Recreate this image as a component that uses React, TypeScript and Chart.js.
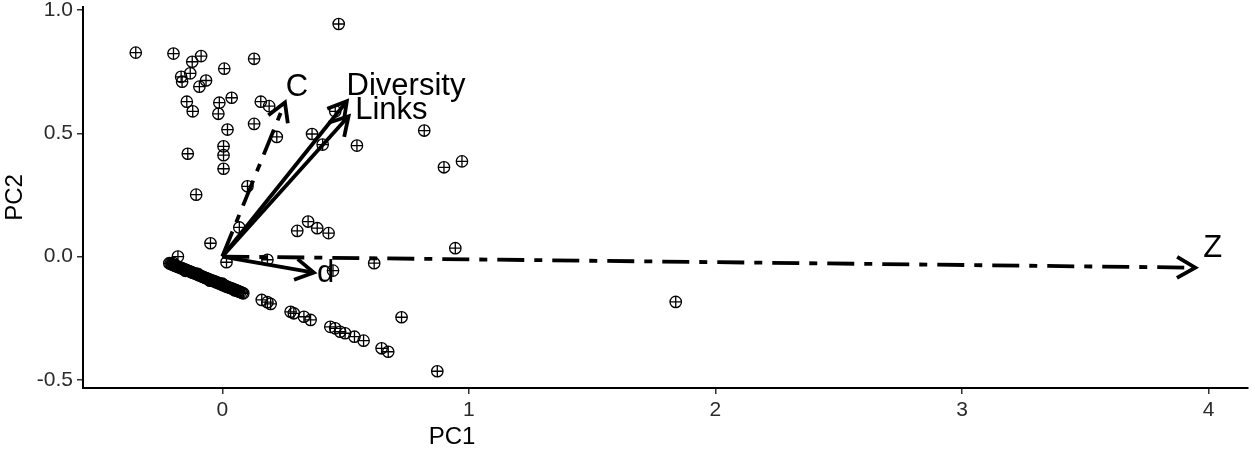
import React, { useEffect, useRef } from "react";
import { Chart, registerables } from "chart.js";

Chart.register(...registerables);

// Scores (points)
const scoreX: number[] = [
  -0.351, -0.198, -0.122, -0.086, -0.167, -0.130, -0.163, -0.066, -0.093, 0.008,
  0.129, -0.144, -0.120, -0.012, 0.038, -0.016, 0.156, 0.190, 0.129, 0.021,
  0.221, 0.364, -0.140, 0.005, 0.005, 0.005, 0.102, -0.106, 0.472, 0.407,
  0.546, 0.458, 0.819, 0.899, 0.972,
  -0.048, -0.180, 0.069, 0.017, 0.183, 0.304, 0.348, 0.385, 0.431, 0.449,
  0.616, 0.945, 1.839,
  0.160, 0.183, 0.196, 0.277, 0.290, 0.331, 0.358, 0.438, 0.458, 0.478,
  0.498, 0.536, 0.573, 0.646, 0.673, 0.727, 0.872,
  -0.215, -0.205, -0.198, -0.190, -0.181, -0.170, -0.162, -0.150, -0.141, -0.128,
  -0.119, -0.105, -0.094, -0.082, -0.070, -0.061, -0.048, -0.037, -0.025, -0.012,
  -0.002, 0.010, 0.021, 0.034, 0.046, 0.057, 0.068, 0.080,
  -0.210, -0.202, -0.194, -0.186, -0.176, -0.166, -0.156, -0.146, -0.135, -0.124,
  -0.112, -0.100, -0.088, -0.076, -0.065, -0.054, -0.043, -0.031, -0.019, -0.007,
  0.004, 0.016, 0.028, 0.040, 0.052, 0.063, 0.074, 0.085,
  -0.200, -0.150, -0.100, -0.050, 0.000, 0.050,
];
const scoreY: number[] = [
  0.827, 0.823, 0.790, 0.813, 0.729, 0.743, 0.709, 0.714, 0.689, 0.762,
  0.802, 0.628, 0.589, 0.624, 0.644, 0.579, 0.628, 0.610, 0.538, 0.515,
  0.485, 0.497, 0.417, 0.447, 0.411, 0.356, 0.285, 0.251, 0.943, 0.454,
  0.450, 0.589, 0.511, 0.362, 0.386,
  0.054, 0.0, 0.118, -0.023, -0.013, 0.104, 0.142, 0.115, 0.095, -0.057,
  -0.027, 0.034, -0.184,
  -0.176, -0.185, -0.192, -0.224, -0.230, -0.244, -0.257, -0.285, -0.291, -0.305,
  -0.311, -0.325, -0.341, -0.372, -0.386, -0.246, -0.465,
  -0.027, -0.031, -0.034, -0.037, -0.041, -0.045, -0.048, -0.053, -0.057, -0.062,
  -0.066, -0.071, -0.076, -0.081, -0.086, -0.089, -0.095, -0.099, -0.104, -0.109,
  -0.113, -0.118, -0.123, -0.128, -0.133, -0.137, -0.142, -0.147,
  -0.029, -0.032, -0.036, -0.039, -0.043, -0.047, -0.051, -0.055, -0.059, -0.064,
  -0.068, -0.073, -0.078, -0.083, -0.088, -0.092, -0.097, -0.101, -0.106, -0.111,
  -0.116, -0.121, -0.126, -0.130, -0.135, -0.140, -0.144, -0.149,
  -0.025, -0.058, -0.070, -0.098, -0.110, -0.137,
];

// Loadings (arrows)
const loadingNames: string[] = ["Diversity", "Links", "C", "d", "Z"];
const loadingX: number[] = [0.505, 0.512, 0.254, 0.371, 3.946];
const loadingY: number[] = [0.63, 0.569, 0.625, -0.065, -0.045];
const loadingDashed: boolean[] = [false, false, true, false, true];
const labelX: number[] = [0.504, 0.539, 0.257, 0.384, 3.978];
const labelY: number[] = [0.657, 0.556, 0.653, -0.102, 0.0];

// Axis ticks
const xTickValues: number[] = [0, 1, 2, 3, 4];
const xTickLabels: string[] = ["0", "1", "2", "3", "4"];
const yTickValues: number[] = [-0.5, 0, 0.5, 1];
const yTickLabels: string[] = ["-0.5", "0.0", "0.5", "1.0"];
const xTitle = "PC1";

const FONT = '"Liberation Sans", Arial, Helvetica, sans-serif';
const DASH = [27, 10, 8, 10];

const arrowPlugin = {
  id: "arrowHeads",
  afterDatasetsDraw(chart: any) {
    const { ctx } = chart;
    const xs = chart.scales.x;
    const ys = chart.scales.y;
    const L = 21;
    const A = Math.PI / 6;
    ctx.save();
    loadingNames.forEach((name, i) => {
      const x0 = xs.getPixelForValue(0);
      const y0 = ys.getPixelForValue(0);
      const x1 = xs.getPixelForValue(loadingX[i]);
      const y1 = ys.getPixelForValue(loadingY[i]);
      const ang = Math.atan2(y1 - y0, x1 - x0);
      ctx.setLineDash([]);
      ctx.lineWidth = 3.8;
      ctx.strokeStyle = "#000";
      ctx.lineCap = "butt";
      ctx.lineJoin = "miter";
      ctx.beginPath();
      ctx.moveTo(x1 - L * Math.cos(ang - A), y1 - L * Math.sin(ang - A));
      ctx.lineTo(x1, y1);
      ctx.lineTo(x1 - L * Math.cos(ang + A), y1 - L * Math.sin(ang + A));
      ctx.stroke();
      ctx.font = `31px ${FONT}`;
      ctx.fillStyle = "#000";
      ctx.textAlign = "left";
      ctx.textBaseline = "alphabetic";
      ctx.fillText(name, xs.getPixelForValue(labelX[i]), ys.getPixelForValue(labelY[i]));
    });
    // x axis title (placed as in the reference, left of the area centre)
    ctx.font = `24px ${FONT}`;
    ctx.fillStyle = "#000";
    ctx.textAlign = "center";
    ctx.textBaseline = "middle";
    ctx.fillText(xTitle, 452, 437);
    ctx.restore();
  },
};

export default function App() {
  const ref = useRef<HTMLCanvasElement | null>(null);

  useEffect(() => {
    if (!ref.current) return;
    const pts = scoreX.map((x, i) => ({ x, y: scoreY[i] }));
    const arrowSets = loadingNames.map((name, i) => ({
      type: "line" as const,
      label: name,
      data: [
        { x: 0, y: 0 },
        { x: loadingX[i], y: loadingY[i] },
      ],
      borderColor: "#000",
      borderWidth: 3.8,
      borderDash: loadingDashed[i] ? DASH : [],
      borderCapStyle: "butt" as const,
      pointRadius: 0,
      fill: false,
      tension: 0,
      order: 0,
    }));
    const chart = new Chart(ref.current, {
      type: "scatter",
      data: {
        datasets: [
          ...arrowSets,
          {
            label: "scores-circle",
            data: pts,
            pointStyle: "circle",
            pointRadius: 5.7,
            pointBorderWidth: 1.3,
            pointBorderColor: "#000",
            pointBackgroundColor: "rgba(0,0,0,0)",
            order: 1,
          },
          {
            label: "scores-cross",
            data: pts,
            pointStyle: "cross",
            pointRadius: 5.7,
            pointBorderWidth: 1.3,
            pointBorderColor: "#000",
            pointBackgroundColor: "rgba(0,0,0,0)",
            order: 1,
          },
        ] as any,
      },
      options: {
        responsive: false,
        animation: false,
        devicePixelRatio: 1,
        layout: { padding: { top: 7, right: 0, left: 0, bottom: 0 } },
        plugins: {
          legend: { display: false },
          tooltip: { enabled: false },
        },
        scales: {
          x: {
            type: "linear",
            min: -0.565,
            max: 4.16,
            afterFit: (s: any) => {
              s.height = 67;
              s.paddingLeft = 0;
              s.paddingRight = 0;
            },
            afterBuildTicks: (s: any) => {
              s.ticks = xTickValues.map((v) => ({ value: v }));
            },
            ticks: {
              color: "#2b2b2b",
              font: { family: FONT, size: 21 },
              padding: 4,
              maxRotation: 0,
              autoSkip: false,
              callback: (v: any) => {
                const idx = xTickValues.indexOf(Number(v));
                return idx >= 0 ? xTickLabels[idx] : "";
              },
            },
            grid: {
              drawOnChartArea: false,
              drawTicks: true,
              tickLength: 6,
              color: "#333",
              lineWidth: 1.5,
            },
            border: { display: true, color: "#000", width: 2 },
            title: { display: false },
          },
          y: {
            type: "linear",
            min: -0.533,
            max: 1.012,
            afterFit: (s: any) => {
              s.width = 83;
              s.paddingTop = 0;
              s.paddingBottom = 0;
            },
            afterBuildTicks: (s: any) => {
              s.ticks = yTickValues.map((v) => ({ value: v }));
            },
            ticks: {
              color: "#2b2b2b",
              font: { family: FONT, size: 21 },
              padding: 4,
              autoSkip: false,
              callback: (v: any) => {
                const idx = yTickValues.indexOf(Number(v));
                return idx >= 0 ? yTickLabels[idx] : "";
              },
            },
            grid: {
              drawOnChartArea: false,
              drawTicks: true,
              tickLength: 6,
              color: "#333",
              lineWidth: 1.5,
            },
            border: { display: true, color: "#000", width: 2 },
            title: {
              display: true,
              text: "PC2",
              color: "#000",
              font: { family: FONT, size: 24 },
              padding: { top: 1, bottom: 0 },
            },
          },
        },
      },
      plugins: [arrowPlugin],
    });
    return () => chart.destroy();
  }, []);

  return (
    <div style={{ position: "absolute", left: 0, top: 0, width: 1255, height: 455, background: "#fff" }}>
      <canvas ref={ref} width={1255} height={455} />
    </div>
  );
}
